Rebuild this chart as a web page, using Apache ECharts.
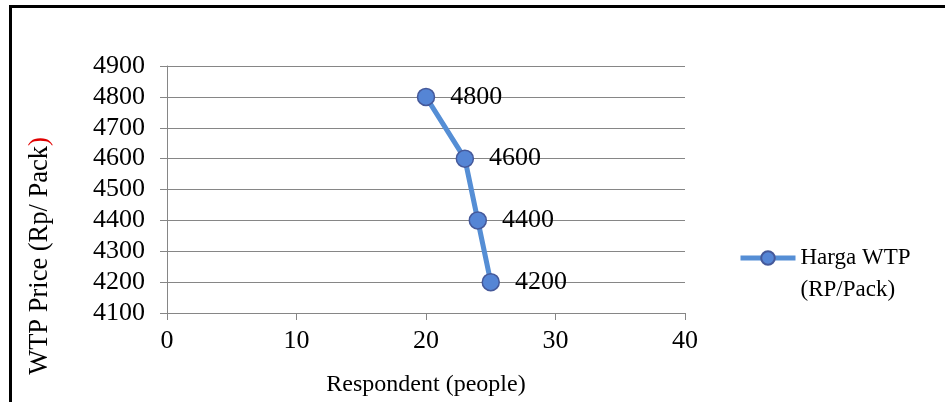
<!DOCTYPE html>
<html>
<head>
<meta charset="utf-8">
<style>
  html, body { margin: 0; padding: 0; background: #fff; }
  #chart { width: 945px; height: 402px; }
</style>
<script src="https://cdn.jsdelivr.net/npm/echarts@6/dist/echarts.min.js"></script>
</head>
<body>
<div id="chart"></div>
<script>
// Respondents willing to pay each price level
const respondents = [20, 23, 24, 25];
const wtpPrice = [4800, 4600, 4400, 4200];
const seriesName = 'Harga WTP (RP/Pack)';
const legendLines = ['Harga WTP', '(RP/Pack)'];
const xAxisTitle = 'Respondent (people)';
const yAxisTitle = 'WTP Price (Rp/ Pack';

const FONT = '"Liberation Serif", "Times New Roman", serif';
const LINE_COLOR = '#558ED5';
const chart = echarts.init(document.getElementById('chart'));

chart.setOption({
  animation: false,
  backgroundColor: '#fff',
  textStyle: { fontFamily: FONT },
  grid: { left: 167, right: 260, top: 66, bottom: 85, containLabel: false },
  graphic: [{
    type: 'rect',
    shape: { x: 10.5, y: 6.5, width: 960, height: 500 },
    style: { fill: 'none', stroke: '#000', lineWidth: 3 },
    silent: true
  }, {
    // vertical axis title, closing parenthesis flagged in red
    type: 'text',
    x: 40, y: 256, rotation: Math.PI / 2,
    style: {
      text: yAxisTitle + '{r|)}',
      font: '26.5px ' + FONT,
      fill: '#000',
      align: 'center', verticalAlign: 'middle',
      rich: { r: { fill: '#e00000', font: '26.5px ' + FONT } }
    },
    silent: true
  }],
  legend: {
    left: 733, top: 205,
    itemWidth: 55, itemHeight: 17, itemGap: 0,
    formatter: () => '\n' + legendLines.join('\n'),
    textStyle: { fontFamily: FONT, fontSize: 23, color: '#000', lineHeight: 32 },
    lineStyle: { width: 5, color: LINE_COLOR },
    data: [{ name: seriesName, lineStyle: { width: 5, color: LINE_COLOR } }]
  },
  xAxis: {
    type: 'value', min: 0, max: 40, interval: 10,
    name: xAxisTitle, nameLocation: 'middle', nameGap: 60,
    nameTextStyle: { fontFamily: FONT, fontSize: 24, color: '#000' },
    axisLine: { show: true, lineStyle: { color: '#868686', width: 1 } },
    axisTick: { show: true, inside: false, length: 7, lineStyle: { color: '#868686' } },
    axisLabel: { fontFamily: FONT, fontSize: 26, color: '#000', margin: 15 },
    splitLine: { show: false }
  },
  yAxis: {
    type: 'value', min: 4100, max: 4900, interval: 100,
    axisLine: { show: true, lineStyle: { color: '#868686', width: 1 } },
    axisTick: { show: true, inside: false, length: 7, lineStyle: { color: '#868686' } },
    axisLabel: { fontFamily: FONT, fontSize: 26, color: '#000', margin: 22, formatter: v => String(v) },
    splitLine: { show: true, lineStyle: { color: '#868686', width: 1 } }
  },
  series: [{
    name: seriesName,
    type: 'line',
    data: respondents.map((r, i) => [r, wtpPrice[i]]),
    symbol: 'circle', symbolSize: 17,
    lineStyle: { color: LINE_COLOR, width: 5 },
    itemStyle: { color: '#5585D5', borderColor: '#45599A', borderWidth: 1.5 },
    label: {
      show: true, position: 'right', distance: 15,
      formatter: p => String(p.value[1]),
      fontFamily: FONT, fontSize: 26, color: '#000'
    }
  }]
});
</script>
</body>
</html>
